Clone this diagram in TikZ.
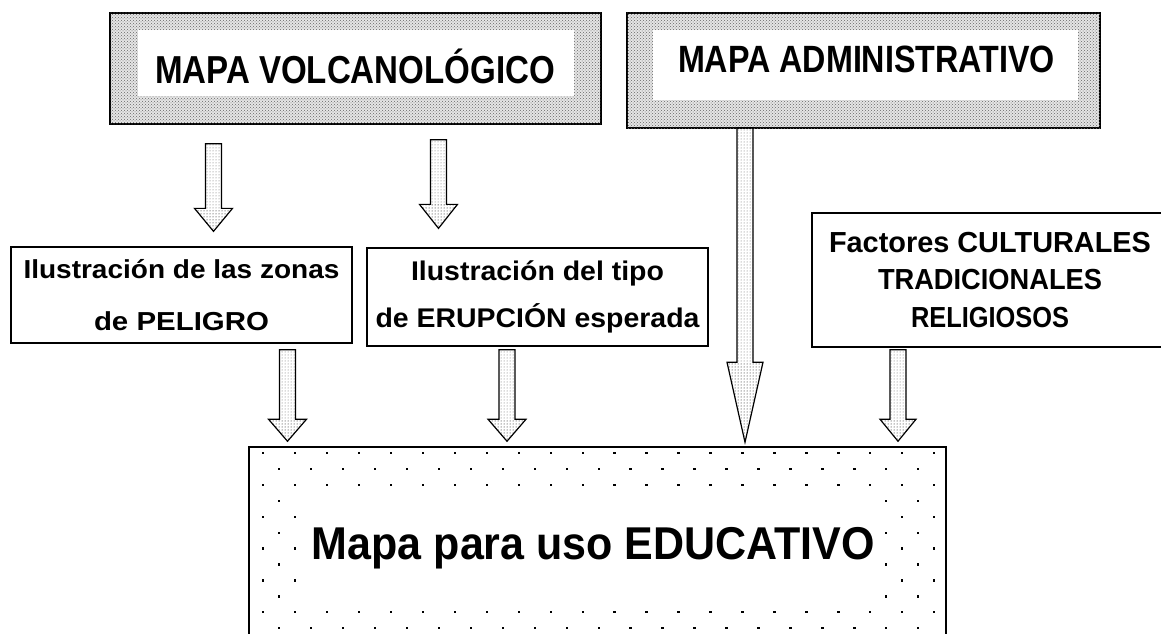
\documentclass[tikz,border=0pt]{standalone}
\usepackage{fontspec}
\setmainfont{Liberation Sans}
\usepackage{graphicx}
\usetikzlibrary{patterns,calc}

\newcommand\fitw[2]{\resizebox{#1}{\height}{#2}}
% block arrow: start, tip, head length, head half width
\newcommand\blockarrow[4]{%
  \fill[pattern=dots, pattern color=black!60] let \p1=(#1), \p2=(#2) in
    (\x1-8pt,\y1) rectangle (\x1+8pt,\y2+#3pt);
  \fill[pattern=dots, pattern color=black] let \p1=(#1), \p2=(#2) in
    (\x1-#4pt,\y2+#3pt) -- (\x1,\y2) -- (\x1+#4pt,\y2+#3pt) -- cycle;
  \draw[arrowline] let \p1=(#1), \p2=(#2) in
    (\x1-8pt,\y1) -- (\x1+8pt,\y1) -- (\x1+8pt,\y2+#3pt) -- (\x1+#4pt,\y2+#3pt)
    -- (\x1,\y2) -- (\x1-#4pt,\y2+#3pt) -- (\x1-8pt,\y2+#3pt) -- cycle;
}

\tikzset{
  greybox/.style={draw=black, line width=1.5pt, fill=black!10, inner sep=0pt,
    postaction={pattern=crosshatch dots, pattern color=black!60}},
  whitein/.style={fill=white, draw=none, inner sep=0pt},
  midbox/.style={draw=black, line width=1.3pt, fill=white, inner sep=0pt, align=center},
  titletext/.style={inner sep=0pt},
  arrowline/.style={draw=black, line width=1.2pt, line join=miter},
  dotbox/.style={draw=black, line width=1.5pt, fill=white, inner sep=0pt},
}

\begin{document}
\begin{tikzpicture}[x=1pt,y=-1pt]
\clip (0,0) rectangle (1161,634);
\fill[white] (0,0) rectangle (1161,634);

% top boxes
\node[greybox, minimum width=491pt, minimum height=111pt] (volc) at (355.5,68.5) {};
\node[whitein, minimum width=436pt, minimum height=66pt] (volcin) at (356,63) {};
\node[titletext, anchor=base, font={\fontsize{39}{39}\selectfont\bfseries}] (volctxt) at (355,83)
  {\fitw{400pt}{MAPA VOLCANOLÓGICO}};

\node[greybox, minimum width=473pt, minimum height=115pt] (admin) at (863.5,70.5) {};
\node[whitein, minimum width=425pt, minimum height=70pt] (adminin) at (865.5,65) {};
\node[titletext, anchor=base, font={\fontsize{38}{38}\selectfont\bfseries}] (admintxt) at (866.5,72)
  {\fitw{377pt}{MAPA ADMINISTRATIVO}};

% middle boxes
\node[midbox, minimum width=341pt, minimum height=96pt, font={\fontsize{26}{52}\selectfont\bfseries}] (peligro) at (181.5,295)
  {\fitw{316pt}{Ilustración de las zonas}\\\fitw{175pt}{de PELIGRO}};
\node[midbox, minimum width=341pt, minimum height=98pt, font={\fontsize{27}{47}\selectfont\bfseries}] (erupcion) at (537.5,297)
  {\fitw{253pt}{Ilustración del tipo}\\\fitw{324pt}{de ERUPCIÓN esperada}};
\node[midbox, minimum width=356pt, minimum height=134pt, font={\fontsize{29}{37.5}\selectfont\bfseries}] (factores) at (990,280)
  {\fitw{322pt}{Factores CULTURALES}\\\fitw{224pt}{TRADICIONALES}\\\fitw{158pt}{RELIGIOSOS}};

% bottom box
\node[dotbox, minimum width=697pt, minimum height=203pt] (edu) at (597.5,548.5) {};
\foreach \j in {0,...,11}{
  \pgfmathsetmacro\yy{453+15.9*\j}
  \pgfmathtruncatemacro\odd{isodd(\j)}
  \foreach \k in {0,...,21}{
    \pgfmathsetmacro\xx{(\odd==1 ? 279 : 263)+31.95*\k}
    \pgfmathtruncatemacro\keep{((\j<3) || (\j>9) || (\xx<300) || (\xx>882)) && (\xx<940) ? 1 : 0}
    \ifnum\keep=1 \fill (\xx-1,\yy-1) rectangle ++(2.4,2.4); \fi
  }
}
\node[titletext, anchor=base, font={\fontsize{46}{46}\selectfont\bfseries}] (edutxt) at (593.5,559)
  {\fitw{563pt}{Mapa para uso EDUCATIVO}};

% arrows
\coordinate (a1s) at ($(volc.south)+(-142,19)$);
\coordinate (a1t) at ($(a1s |- peligro.north)+(0,-15)$);
\coordinate (a2s) at ($(volc.south)+(83,15)$);
\coordinate (a2t) at ($(a2s |- erupcion.north)+(0,-19)$);
\coordinate (a3s) at ($(admin.south)+(-118.5,-1)$);
\coordinate (a3t) at ($(a3s |- edu.north)+(0,-4)$);
\coordinate (b1s) at ($(peligro.south)+(106,6)$);
\coordinate (b1t) at ($(b1s |- edu.north)+(0,-5)$);
\coordinate (b2s) at ($(erupcion.south)+(-30.5,3)$);
\coordinate (b2t) at ($(b2s |- edu.north)+(0,-5)$);
\coordinate (b3s) at ($(factores.south)+(-92,2)$);
\coordinate (b3t) at ($(b3s |- edu.north)+(0,-5)$);

\blockarrow{a1s}{a1t}{23}{19}
\blockarrow{a2s}{a2t}{24}{19}
\blockarrow{a3s}{a3t}{80}{18}
\blockarrow{b1s}{b1t}{22}{19}
\blockarrow{b2s}{b2t}{22}{19}
\blockarrow{b3s}{b3t}{22}{18}
\end{tikzpicture}
\end{document}
